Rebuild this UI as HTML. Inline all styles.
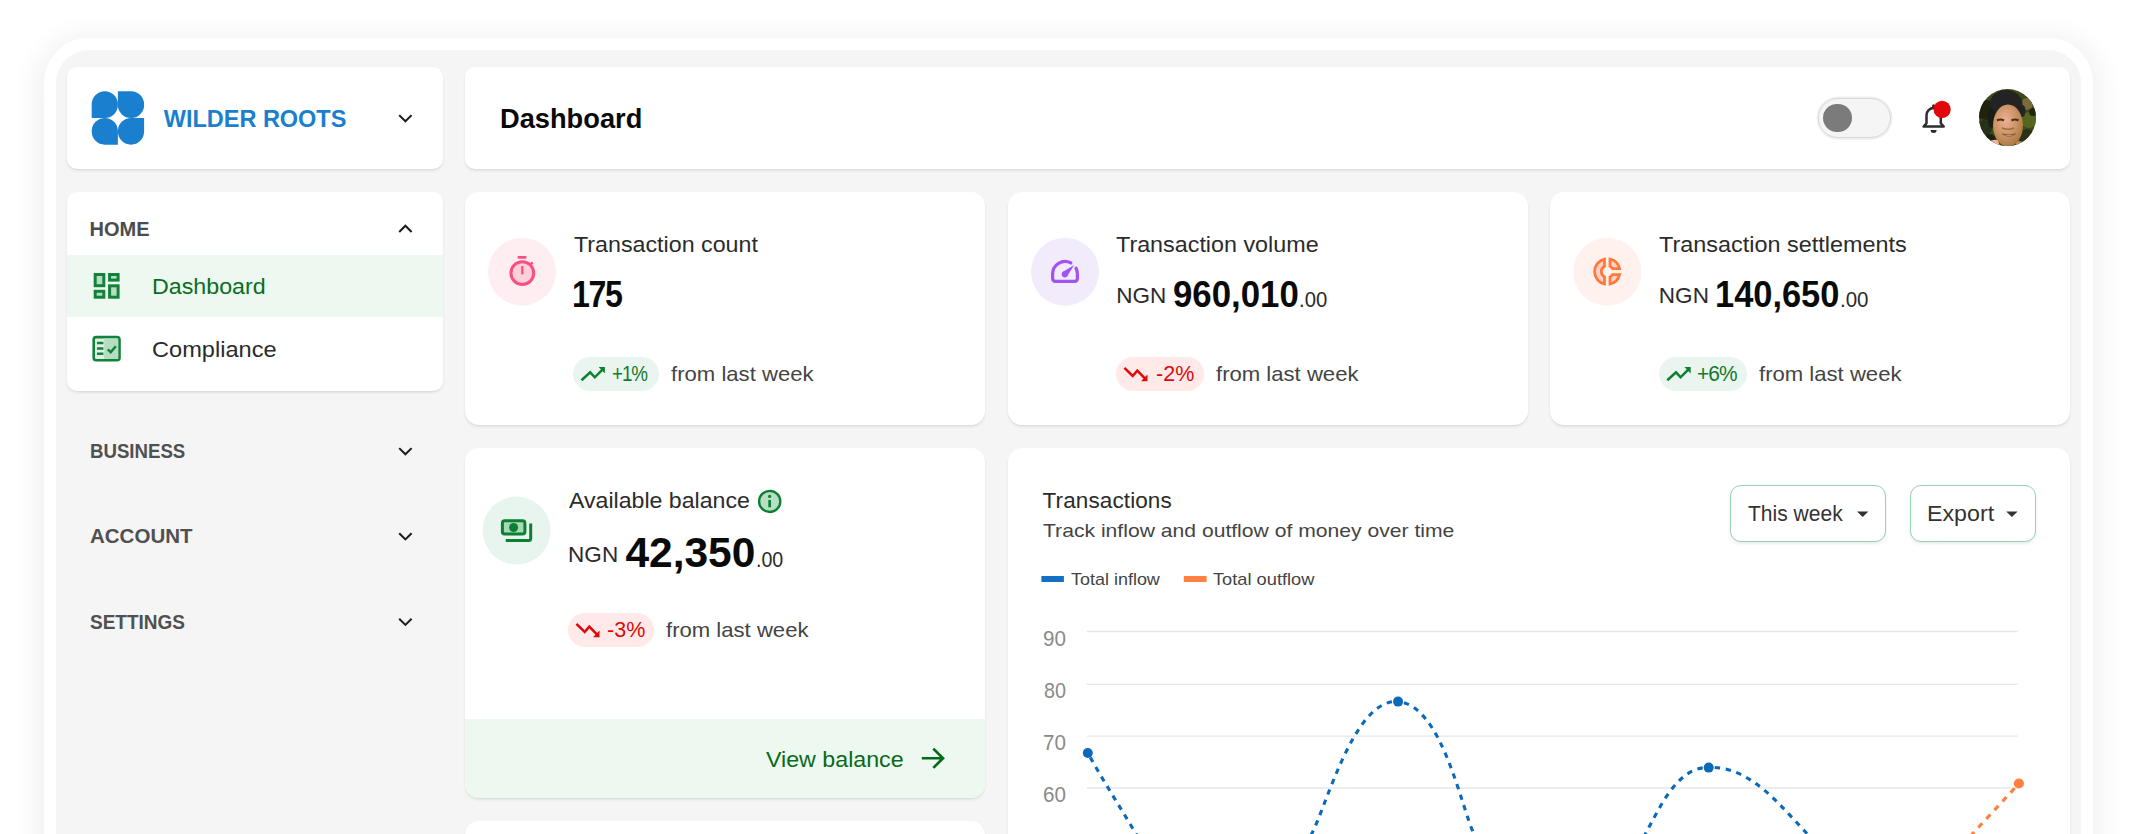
<!DOCTYPE html>
<html lang="en">
<head>
<meta charset="utf-8">
<title>Dashboard</title>
<style>
html,body{margin:0;padding:0;overflow:hidden}
body{width:2136px;height:834px;overflow:hidden;background:#fff;position:relative;font-family:"Liberation Sans",sans-serif}
.frame{position:absolute;left:44px;top:38px;width:2025px;height:900px;border:12px solid #fff;border-radius:45px;background:#f5f5f5;box-shadow:0 6px 24px 12px rgba(0,0,0,.046)}
.card{position:absolute;background:#fff;border-radius:10px;box-shadow:0 2px 3px rgba(0,0,0,.075),0 1px 1px rgba(0,0,0,.04)}
.r12{border-radius:14px}
.t{position:absolute;transform-origin:0 0;white-space:nowrap;line-height:1;font-family:"Liberation Sans",sans-serif}
.active{position:absolute;left:67px;top:254.5px;width:375.5px;height:62.5px;background:#edf8f0}
.circ{position:absolute;width:68px;height:68px;border-radius:50%}
.badge{position:absolute;height:34px;border-radius:17px}
.bg{background:#e9f5ee}.br{background:#ffe9e9}
.foot{position:absolute;left:465px;top:718.5px;width:520px;height:79px;background:#edf8f0;border-radius:0 0 14px 14px}
.btn{position:absolute;top:485px;height:55px;border:1px solid #9bd2b4;border-radius:11px;background:#fff;box-shadow:0 2px 3px rgba(0,0,0,.08)}
.toggle{position:absolute;left:1818px;top:98px;width:71px;height:38px;border-radius:20px;background:#f5f5f5;border:1px solid #d8d8d8;box-shadow:0 0 0 1.5px #f0f0f0,0 1px 2px rgba(0,0,0,.12)}
.knob{position:absolute;left:1823px;top:103.5px;width:28.5px;height:28.5px;border-radius:50%;background:#7b7b7b}
.root{position:absolute;left:0;top:0;width:2136px;height:834px;overflow:hidden}
svg.ov{position:absolute;left:0;top:0;width:2136px;height:834px;overflow:hidden}
</style>
</head>
<body>
<div class="root">
<div class="frame"></div>

<div class="card" style="left:67px;top:67px;width:375.5px;height:102px"></div>
<div class="card" style="left:465px;top:67px;width:1605px;height:102px"></div>
<div class="card" style="left:67px;top:192px;width:375.5px;height:199px"></div>
<div class="active"></div>

<div class="card r12" style="left:465px;top:192px;width:520px;height:233px"></div>
<div class="card r12" style="left:1007.5px;top:192px;width:520px;height:233px"></div>
<div class="card r12" style="left:1550px;top:192px;width:520px;height:233px"></div>

<div class="card r12" style="left:465px;top:448px;width:520px;height:349.5px"></div>
<div class="foot"></div>
<div class="card r12" style="left:1007.5px;top:448px;width:1062.5px;height:500px"></div>
<div class="card r12" style="left:465px;top:821px;width:520px;height:200px"></div>


<div class="badge bg" style="left:573.2px;top:357px;width:85.6px"></div>
<div class="badge br" style="left:1116px;top:357px;width:88px"></div>
<div class="badge bg" style="left:1659px;top:357px;width:88px"></div>
<div class="badge br" style="left:568px;top:613px;width:86.3px"></div>

<div class="btn" style="left:1730px;width:154px"></div>
<div class="btn" style="left:1910px;width:124px"></div>

<div class="toggle"></div><div class="knob"></div>

<svg class="ov" viewBox="0 0 2136 834" width="2136" height="834">
<g fill="#1b7fd0">
<path d="M104.80 91.20H104.80A13.1 13.1 0 0 1 117.90 104.30V104.90A13.1 13.1 0 0 1 104.80 118.00H91.70V104.30A13.1 13.1 0 0 1 104.80 91.20Z"/>
<path d="M117.90 91.20H131.00A13.1 13.1 0 0 1 144.10 104.30V104.90A13.1 13.1 0 0 1 131.00 118.00H131.00A13.1 13.1 0 0 1 117.90 104.90V91.20Z"/>
<path d="M104.80 118.00H104.80A13.1 13.1 0 0 1 117.90 131.10V144.70H104.80A13.1 13.1 0 0 1 91.70 131.60V131.10A13.1 13.1 0 0 1 104.80 118.00Z"/>
<path d="M131.00 118.00H144.10V131.60A13.1 13.1 0 0 1 131.00 144.70H131.00A13.1 13.1 0 0 1 117.90 131.60V131.10A13.1 13.1 0 0 1 131.00 118.00Z"/>
</g>
<path d="M399.2 115.1L405.4 121.3L411.6 115.1" fill="none" stroke="#1c1c1c" stroke-width="2.05"/>
<path d="M399.2 232.0L405.4 225.8L411.6 232.0" fill="none" stroke="#1c1c1c" stroke-width="2.05"/>
<path d="M399.2 448.1L405.4 454.3L411.6 448.1" fill="none" stroke="#1c1c1c" stroke-width="2.05"/>
<path d="M399.2 533.2L405.4 539.4L411.6 533.2" fill="none" stroke="#1c1c1c" stroke-width="2.05"/>
<path d="M399.2 618.7L405.4 624.9L411.6 618.7" fill="none" stroke="#1c1c1c" stroke-width="2.05"/>
<rect x="95.20" y="274.50" width="8.60" height="11.20" fill="#b6dcc2" stroke="#12813a" stroke-width="3.0"/>
<rect x="109.60" y="274.50" width="8.50" height="5.60" fill="#b6dcc2" stroke="#12813a" stroke-width="3.0"/>
<rect x="95.20" y="291.30" width="8.60" height="5.90" fill="#b6dcc2" stroke="#12813a" stroke-width="3.0"/>
<rect x="109.60" y="285.80" width="8.50" height="11.40" fill="#b6dcc2" stroke="#12813a" stroke-width="3.0"/>
<rect x="93.7" y="337.1" width="25.8" height="23.2" rx="2.5" fill="#dff0e4" stroke="#12813a" stroke-width="2.6"/>
<rect x="104.2" y="338.4" width="14" height="20.6" fill="#b6dcc2"/>
<path d="M97 343.1H103.4M97 348.4H103.4M97 353.8H103.4" stroke="#12813a" stroke-width="2.5" fill="none"/>
<path d="M107.8 349.3L110.7 352.2L115.8 346.2" stroke="#12813a" stroke-width="2.5" fill="none"/>
<path d="M1923.6 126.6L1926.5 123.2V115.2a7.15 7.15 0 0 1 14.3 0V123.2L1943.7 126.6Z" fill="none" stroke="#2d2d2d" stroke-width="2.5" stroke-linejoin="round"/>
<circle cx="1933.6" cy="105.9" r="1.6" fill="#2d2d2d"/>
<path d="M1930.6 130.0H1936.6a3 3 0 0 1 -6 0Z" fill="#2d2d2d"/>
<circle cx="1942.1" cy="109.4" r="8.6" fill="#e00808"/>
<defs><clipPath id="av"><circle cx="2007.5" cy="117.6" r="28.5"/></clipPath>
<radialGradient id="fg" cx="0.42" cy="0.38" r="0.65"><stop offset="0" stop-color="#eeb096"/><stop offset="0.55" stop-color="#cc9466"/><stop offset="1" stop-color="#a87840"/></radialGradient></defs>
<g clip-path="url(#av)">
<rect x="1978" y="88" width="60" height="60" fill="#3c4a18"/>
<circle cx="1986" cy="110" r="10" fill="#1e2410"/><circle cx="1984" cy="128" r="8" fill="#27301a"/><circle cx="1990" cy="140" r="6" fill="#1c2210"/>
<circle cx="2029" cy="120" r="8" fill="#55661f"/><circle cx="2027" cy="137" r="8" fill="#2a3214"/><circle cx="2027" cy="104" r="6" fill="#7a6a3a"/><circle cx="2033" cy="112" r="4" fill="#20260f"/>
<ellipse cx="2006" cy="104.5" rx="16.5" ry="14.5" fill="#232323"/>
<ellipse cx="1991.5" cy="118" rx="4" ry="10" fill="#1a1d10"/>
<ellipse cx="2022.5" cy="111" rx="3" ry="6" fill="#242424"/>
<path d="M1986 147Q1989 138 1998 140L2000 147Z" fill="#f2b4a0"/>
<path d="M2016 141Q2026 141 2030 147H2016Z" fill="#b8865a"/>
<ellipse cx="2008" cy="125.5" rx="15" ry="21" fill="url(#fg)"/>
<path d="M1997 120.5q3.5 -2 7 0M2011.5 120.5q3.5 -2 7 0" stroke="#4a3018" stroke-width="2.2" fill="none"/>
<path d="M2002 128q6 2.5 12 0" stroke="#a06a40" stroke-width="1.5" fill="none"/>
<path d="M2002.5 134q6.5 4.5 13 0q-6.5 2 -13 0Z" fill="#fff" stroke="#8a5630" stroke-width="1"/>
</g>
<circle cx="522" cy="271.7" r="34" fill="#ffeef1"/>
<circle cx="1065" cy="271.7" r="34" fill="#f2ebfb"/>
<circle cx="1607.3" cy="271.7" r="34" fill="#fff1ee"/>
<circle cx="516.6" cy="530.6" r="34" fill="#e8f5ee"/>
<circle cx="522.3" cy="273.1" r="11.4" fill="#ffd0d6" stroke="#fa4f83" stroke-width="3"/>
<rect x="517.7" y="256" width="8.7" height="2.7" fill="#fa4f83"/>
<path d="M522.3 266V274.3" stroke="#fa4f83" stroke-width="2.3"/>
<path d="M530.2 264.8L532.7 262.3" stroke="#fa4f83" stroke-width="2.5"/>
<path d="M1052.60 273.90A12.4 12.4 0 0 1 1070.82 262.95" fill="none" stroke="#a352f2" stroke-width="3.2" stroke-linecap="round"/>
<path d="M1076.05 268.27A12.4 12.4 0 0 1 1077.40 273.90V278.6a2.7 2.7 0 0 1 -2.7 2.7H1055.30a2.7 2.7 0 0 1 -2.7 -2.7V273.90" fill="none" stroke="#a352f2" stroke-width="3.2" stroke-linecap="round"/>
<circle cx="1064.8" cy="274.3" r="3.1" fill="#a352f2"/>
<path d="M1066.99 276.49L1062.61 272.11L1074.2 264.9Z" fill="#a352f2"/>
<g fill="#ffd0cc" stroke="#ff7a38" stroke-width="2.8" stroke-linejoin="miter">
<path d="M1604.5 259.2A12.7 12.7 0 0 0 1604.5 284.0V276.9A6 6 0 0 1 1604.5 266.3Z"/>
<path d="M1610 259.2A12.7 12.7 0 0 1 1619.6 268.6H1612.4A6 6 0 0 0 1610 266.3Z"/>
<path d="M1610 284.0A12.7 12.7 0 0 0 1619.6 274.6H1612.4A6 6 0 0 1 1610 276.9Z"/>
</g>
<path d="M505.7 540.5H528.7a2 2 0 0 0 2 -2V523.6" fill="none" stroke="#0c8030" stroke-width="3"/>
<rect x="502.4" y="520.8" width="22.5" height="13.3" rx="2.3" fill="#a8d8b8" stroke="#0c8030" stroke-width="3"/>
<circle cx="513.6" cy="527.5" r="4.5" fill="#0c8030"/>
<circle cx="769.7" cy="501.4" r="10.6" fill="#b8dfc4" stroke="#0c8030" stroke-width="2.3"/>
<circle cx="769.65" cy="496.4" r="1.6" fill="#0c8030"/><rect x="768.3" y="500" width="2.7" height="7.3" fill="#0c8030"/>
<path d="M581.5 380.2L590.2 372.3L594.8 377.3L602.7 369.4" fill="none" stroke="#0e7f30" stroke-width="2.5"/>
<path d="M598.6 367.1H604.9V373.4Z" fill="#0e7f30"/>
<path d="M1124.4 367.8L1132.7 376.0L1137.3 370.6L1145.6 379.2" fill="none" stroke="#e00808" stroke-width="2.5"/>
<path d="M1147.5 374.6V381.2H1141.0Z" fill="#e00808"/>
<path d="M1667.3 380.2L1676.0 372.3L1680.6 377.3L1688.5 369.4" fill="none" stroke="#0e7f30" stroke-width="2.5"/>
<path d="M1684.4 367.1H1690.7V373.4Z" fill="#0e7f30"/>
<path d="M576.4 623.8L584.7 632.0L589.3 626.6L597.6 635.2" fill="none" stroke="#e00808" stroke-width="2.5"/>
<path d="M599.5 630.6V637.2H593.0Z" fill="#e00808"/>
<path d="M921.8 758.25H943M933.3 748.6L943 758.25L933.3 767.9" fill="none" stroke="#066a18" stroke-width="2.7"/>
<path d="M1857 511.4h11.4l-5.7 5.7Z" fill="#333"/>
<path d="M2006.2 511.4h11.4l-5.7 5.7Z" fill="#333"/>
<rect x="1041.4" y="576" width="22.5" height="6" fill="#1470c4"/>
<rect x="1183.8" y="576" width="22.8" height="6" fill="#ff8040"/>
<path d="M1086.8 631.5H2017.8" stroke="#e7e7e7" stroke-width="1.3"/>
<path d="M1086.8 684.4H2017.8" stroke="#e7e7e7" stroke-width="1.3"/>
<path d="M1086.8 736.2H2017.8" stroke="#e7e7e7" stroke-width="1.3"/>
<path d="M1086.8 788.0H2017.8" stroke="#e7e7e7" stroke-width="1.3"/>
<path d="M1087.8 753.0C1103.5 781.4 1121.1 808.5 1137.5 836.5" fill="none" stroke="#0a69b8" stroke-width="3.1" stroke-dasharray="5.4 5.7" stroke-dashoffset="-5"/>
<path d="M1398.0 701.6C1354.0 697.9 1326.0 808.0 1311.3 834.5" fill="none" stroke="#0a69b8" stroke-width="3.1" stroke-dasharray="5.4 5.7" stroke-dashoffset="-6"/>
<path d="M1398.0 701.6C1441.7 705.3 1460.6 805.2 1474.3 835.0" fill="none" stroke="#0a69b8" stroke-width="3.1" stroke-dasharray="5.4 5.7" stroke-dashoffset="-6"/>
<path d="M1708.7 767.6C1676.6 766.1 1658.1 811.5 1645.0 834.5" fill="none" stroke="#0a69b8" stroke-width="3.1" stroke-dasharray="5.4 5.7" stroke-dashoffset="-6"/>
<path d="M1708.7 767.6C1750.5 765.0 1782.4 808.2 1808.4 835.0" fill="none" stroke="#0a69b8" stroke-width="3.1" stroke-dasharray="5.4 5.7" stroke-dashoffset="-6"/>
<path d="M2018.9 783.5L1970.5 836" fill="none" stroke="#ff8040" stroke-width="3.2" stroke-dasharray="5.8 6.1" stroke-dashoffset="-6.5"/>
<circle cx="1087.8" cy="753" r="5" fill="#0a69b8"/>
<circle cx="1398.05" cy="701.6" r="5" fill="#0a69b8"/>
<circle cx="1708.7" cy="767.6" r="5" fill="#0a69b8"/>
<circle cx="2018.9" cy="783.5" r="5.1" fill="#ff8040"/>
</svg>
<span class="t" style="left:163.80px;top:108px;font-size:23.5px;font-weight:700;color:#1b7fd0;letter-spacing:-0.018px">WILDER ROOTS</span>
<span class="t" style="left:500.21px;top:105px;font-size:27.5px;font-weight:700;color:#0a0a0a;transform:scaleX(0.9905)">Dashboard</span>
<span class="t" style="left:89.50px;top:219px;font-size:20.0px;font-weight:700;color:#4c4c4c;letter-spacing:0.013px">HOME</span>
<span class="t" style="left:152.17px;top:276px;font-size:22.5px;font-weight:400;color:#0a6e1e;transform:scaleX(1.0326)">Dashboard</span>
<span class="t" style="left:151.95px;top:339px;font-size:22.5px;font-weight:400;color:#2b2b2b;transform:scaleX(1.0487)">Compliance</span>
<span class="t" style="left:89.67px;top:441px;font-size:20.0px;font-weight:700;color:#505050;transform:scaleX(0.9316)">BUSINESS</span>
<span class="t" style="left:90.10px;top:526px;font-size:20.0px;font-weight:700;color:#505050;transform:scaleX(1.0253)">ACCOUNT</span>
<span class="t" style="left:90.40px;top:612px;font-size:20.0px;font-weight:700;color:#505050;transform:scaleX(0.9491)">SETTINGS</span>
<span class="t" style="left:573.70px;top:234px;font-size:22.5px;font-weight:400;color:#2b2b2b;transform:scaleX(1.0332)">Transaction count</span>
<span class="t" style="left:572.21px;top:277px;font-size:36.0px;font-weight:700;color:#0a0a0a;letter-spacing:-1.5px;transform:scaleX(0.8938)">175</span>
<span class="t" style="left:612.37px;top:363px;font-size:22.5px;font-weight:400;color:#117a2f;letter-spacing:-1.3px;transform:scaleX(0.8347)">+1%</span>
<span class="t" style="left:670.50px;top:363px;font-size:21.0px;font-weight:400;color:#444444;transform:scaleX(1.0532)">from last week</span>
<span class="t" style="left:1116.30px;top:234px;font-size:22.5px;font-weight:400;color:#2b2b2b;transform:scaleX(1.0365)">Transaction volume</span>
<span class="t" style="left:1116.20px;top:285px;font-size:22.5px;font-weight:400;color:#2b2b2b;letter-spacing:0.025px">NGN</span>
<span class="t" style="left:1172.93px;top:277px;font-size:36.0px;font-weight:700;color:#0a0a0a;transform:scaleX(0.9664)">960,010</span>
<span class="t" style="left:1299.46px;top:290px;font-size:21.5px;font-weight:400;color:#2b2b2b;transform:scaleX(0.9436)">.00</span>
<span class="t" style="left:1156.00px;top:364px;font-size:21.5px;font-weight:400;color:#de0a0a;letter-spacing:0.092px">-2%</span>
<span class="t" style="left:1215.90px;top:363px;font-size:21.0px;font-weight:400;color:#444444;transform:scaleX(1.0525)">from last week</span>
<span class="t" style="left:1659.00px;top:234px;font-size:22.5px;font-weight:400;color:#2b2b2b;transform:scaleX(1.0405)">Transaction settlements</span>
<span class="t" style="left:1658.80px;top:285px;font-size:22.5px;font-weight:400;color:#2b2b2b;letter-spacing:0.075px">NGN</span>
<span class="t" style="left:1714.99px;top:277px;font-size:36.0px;font-weight:700;color:#0a0a0a;transform:scaleX(0.9559)">140,650</span>
<span class="t" style="left:1840.35px;top:290px;font-size:21.5px;font-weight:400;color:#2b2b2b;transform:scaleX(0.9540)">.00</span>
<span class="t" style="left:1697.37px;top:363px;font-size:22.5px;font-weight:400;color:#117a2f;letter-spacing:-1.0px;transform:scaleX(0.9284)">+6%</span>
<span class="t" style="left:1758.90px;top:363px;font-size:21.0px;font-weight:400;color:#444444;transform:scaleX(1.0525)">from last week</span>
<span class="t" style="left:568.50px;top:490px;font-size:22.5px;font-weight:400;color:#2b2b2b;transform:scaleX(1.0276)">Available balance</span>
<span class="t" style="left:568.00px;top:544px;font-size:22.5px;font-weight:400;color:#2b2b2b;letter-spacing:0.075px">NGN</span>
<span class="t" style="left:625.50px;top:532px;font-size:42.5px;font-weight:700;color:#0a0a0a;letter-spacing:-0.031px">42,350</span>
<span class="t" style="left:755.99px;top:550px;font-size:21.5px;font-weight:400;color:#2b2b2b;transform:scaleX(0.9125)">.00</span>
<span class="t" style="left:607.00px;top:620px;font-size:21.5px;font-weight:400;color:#de0a0a;letter-spacing:0.092px">-3%</span>
<span class="t" style="left:666.30px;top:619px;font-size:21.0px;font-weight:400;color:#444444;transform:scaleX(1.0525)">from last week</span>
<span class="t" style="left:766.20px;top:749px;font-size:22.5px;font-weight:400;color:#086a1a;transform:scaleX(1.0315)">View balance</span>
<span class="t" style="left:1042.60px;top:490px;font-size:22.5px;font-weight:400;color:#2b2b2b;letter-spacing:0.107px">Transactions</span>
<span class="t" style="left:1042.70px;top:521px;font-size:19.0px;font-weight:400;color:#444444;transform:scaleX(1.1118)">Track inflow and outflow of money over time</span>
<span class="t" style="left:1070.50px;top:571px;font-size:17.0px;font-weight:400;color:#444444;transform:scaleX(1.0564)">Total inflow</span>
<span class="t" style="left:1212.60px;top:571px;font-size:17.0px;font-weight:400;color:#444444;transform:scaleX(1.0733)">Total outflow</span>
<span class="t" style="left:1043.24px;top:629px;font-size:21.5px;font-weight:400;color:#8a8a8a;transform:scaleX(0.9583)">90</span>
<span class="t" style="left:1044.20px;top:681px;font-size:21.5px;font-weight:400;color:#8a8a8a;transform:scaleX(0.9183)">80</span>
<span class="t" style="left:1043.24px;top:733px;font-size:21.5px;font-weight:400;color:#8a8a8a;transform:scaleX(0.9583)">70</span>
<span class="t" style="left:1043.24px;top:785px;font-size:21.5px;font-weight:400;color:#8a8a8a;transform:scaleX(0.9583)">60</span>
<span class="t" style="left:1748.40px;top:503px;font-size:22.0px;font-weight:400;color:#333;transform:scaleX(0.9557)">This week</span>
<span class="t" style="left:1926.55px;top:503px;font-size:22.0px;font-weight:400;color:#333;transform:scaleX(1.0549)">Export</span>
</div>
</body>
</html>
